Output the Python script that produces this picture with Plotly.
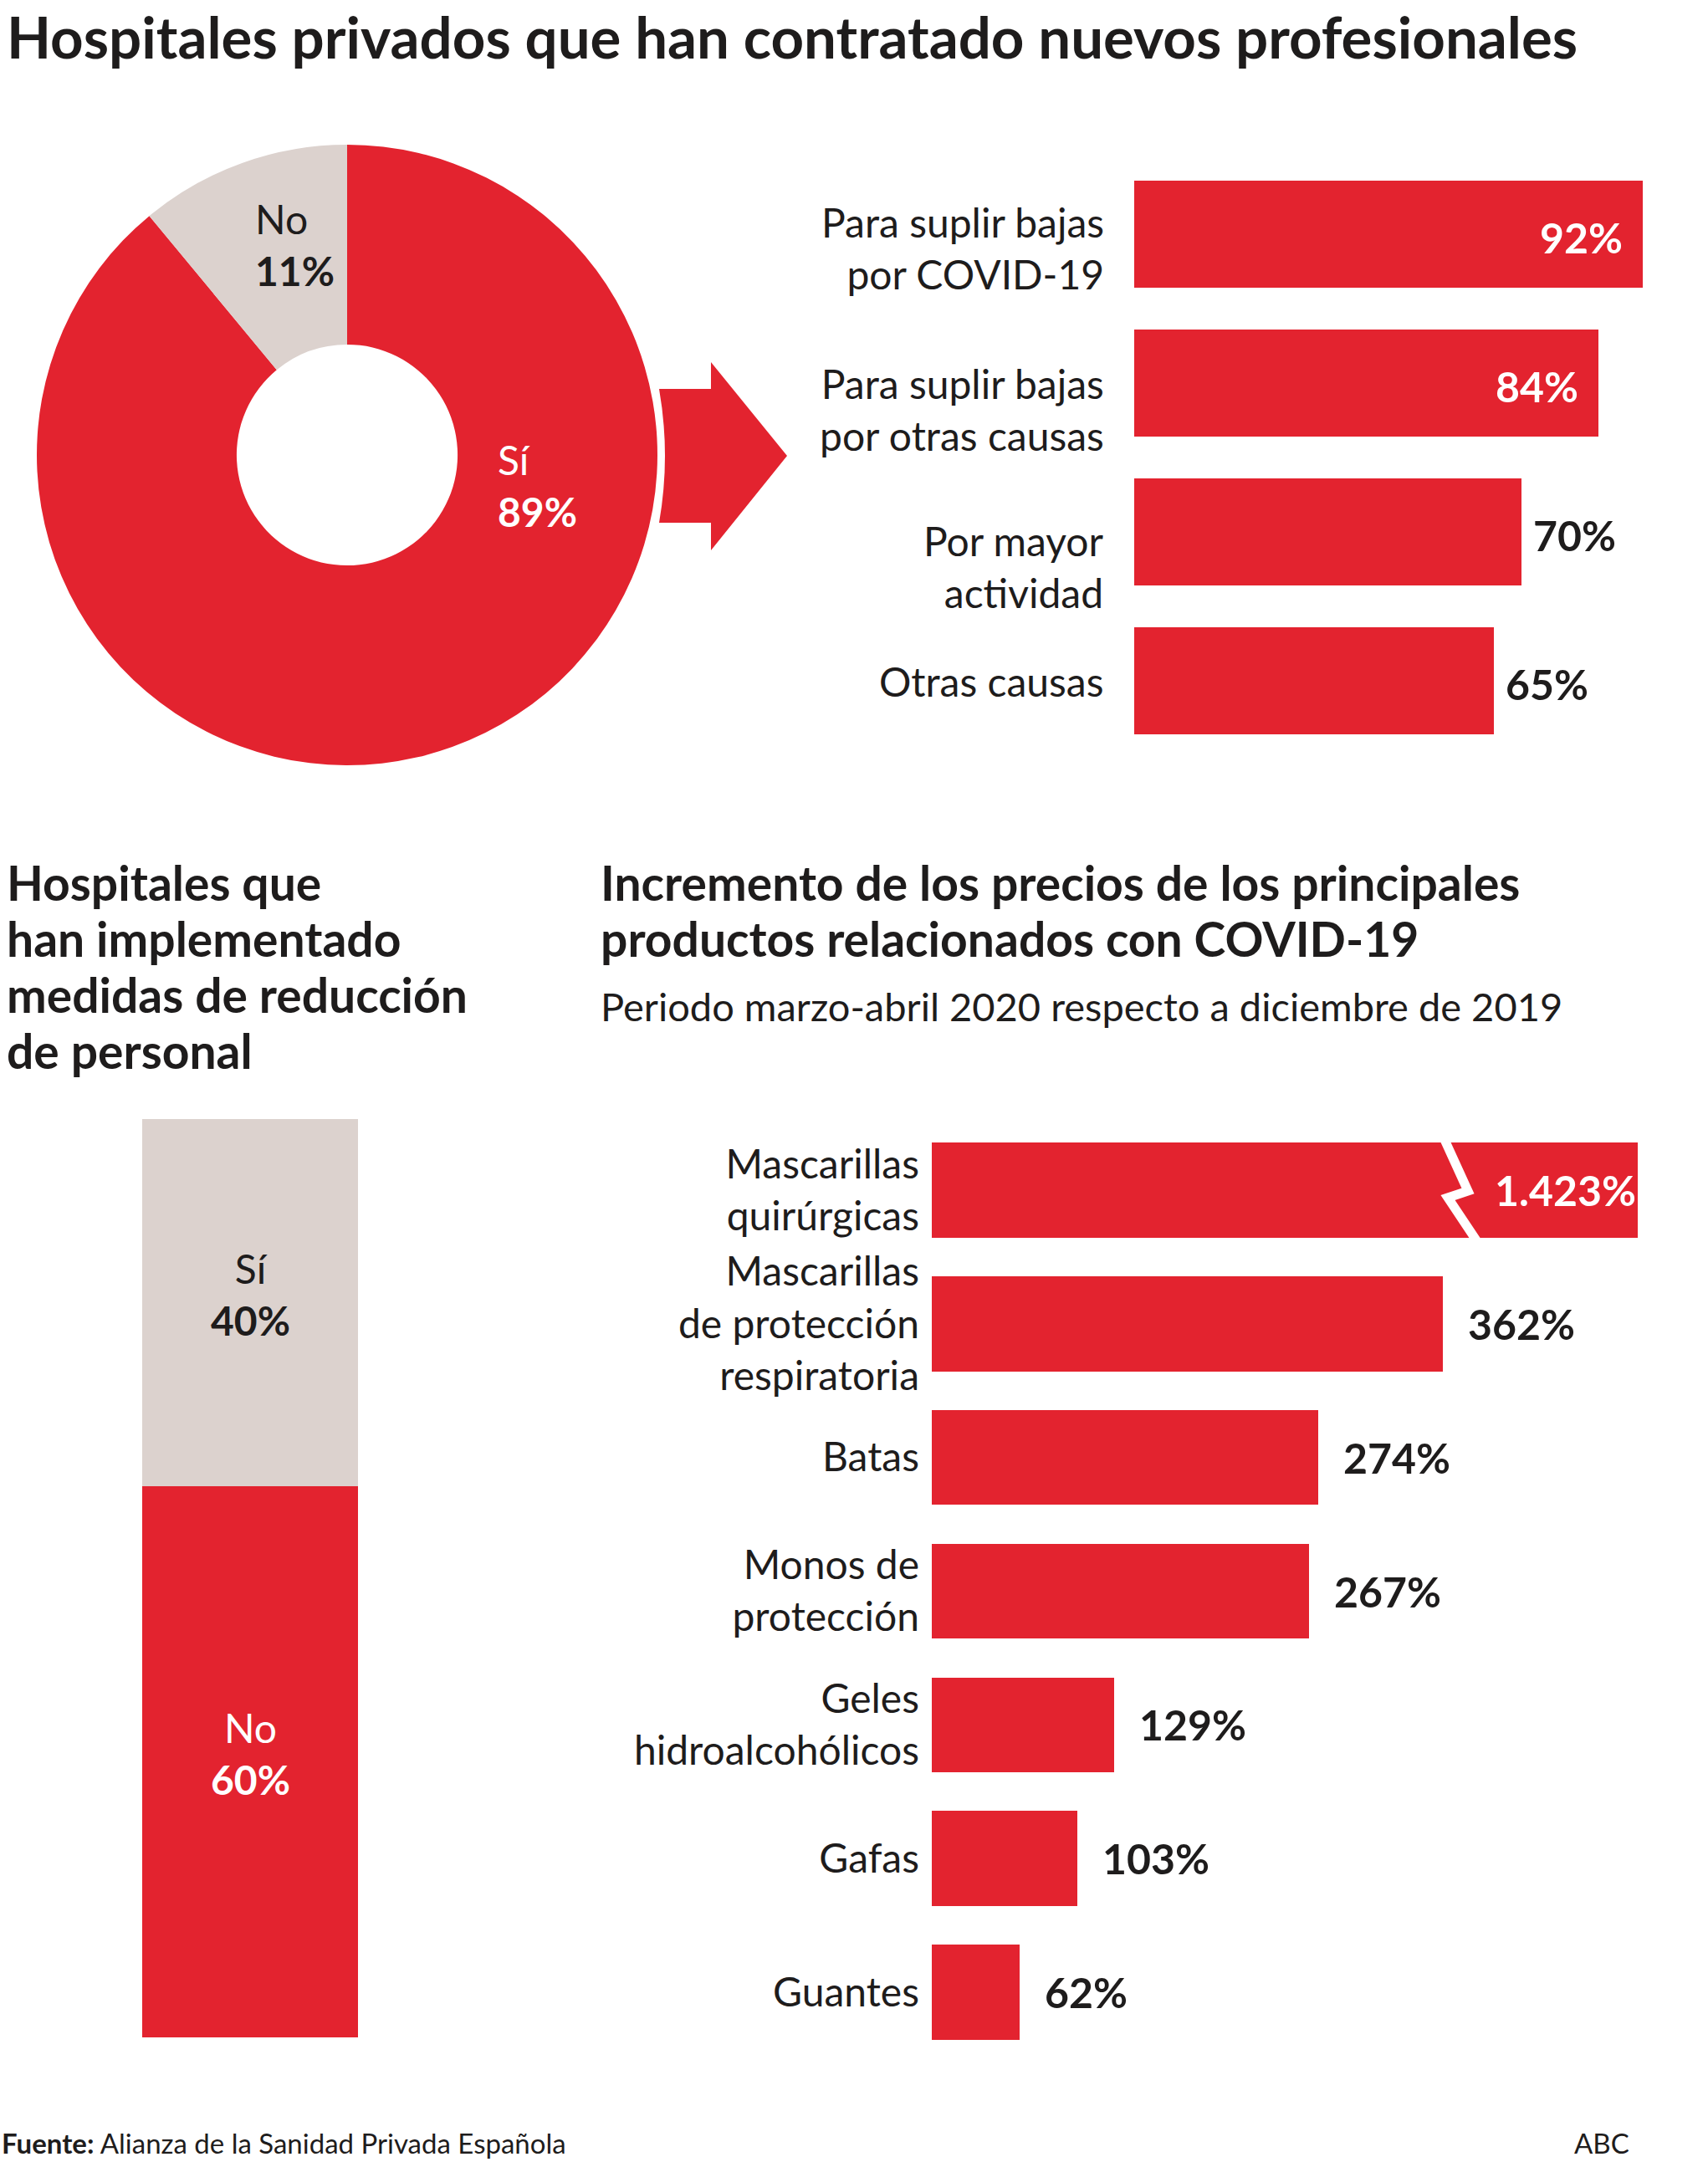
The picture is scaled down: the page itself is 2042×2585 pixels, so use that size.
import plotly.graph_objects as go

W, H = 2042, 2585
RED = "#E3232F"
GREY = "#DCD2CE"
INK = "#1E1C1C"
FONT = "Lato, 'Open Sans', sans-serif"

# ---------------- data ----------------
title_main = "Hospitales privados que han contratado nuevos profesionales"

donut_labels = ["Sí", "No"]
donut_values = [89, 11]

reason_labels = [
    "Para suplir bajas<br>por COVID-19",
    "Para suplir bajas<br>por otras causas",
    "Por mayor<br>actividad",
    "Otras causas",
]
reason_values = [92, 84, 70, 65]

cut_title = ["Hospitales que", "han implementado", "medidas de reducción", "de personal"]
cut_labels = ["Sí", "No"]
cut_values = [40, 60]

price_title = ["Incremento de los precios de los principales",
               "productos relacionados con COVID-19"]
price_subtitle = "Periodo marzo-abril 2020 respecto a diciembre de 2019"
product_labels = [
    "Mascarillas<br>quirúrgicas",
    "Mascarillas<br>de protección<br>respiratoria",
    "Batas",
    "Monos de<br>protección",
    "Geles<br>hidroalcohólicos",
    "Gafas",
    "Guantes",
]
product_values = [1423, 362, 274, 267, 129, 103, 62]

source_text = "Alianza de la Sanidad Privada Española"
brand_text = "ABC"

# display / style parameters
BREAK_AT = 500          # bars longer than this are drawn broken
INSIDE_MIN = 80         # top chart: values >= this are labelled inside the bar
reason_label_drop = [16, 31, 41, 0]   # px the category labels sit below bar centre


def px(x):
    return x / W


def py(y):
    return 1 - y / H


def fmt_es(v):
    return f"{v:,}".replace(",", ".")


fig = go.Figure()

# ---------------- donut ----------------
donut_colors = {"Sí": RED, "No": GREY}
fig.add_trace(go.Pie(
    labels=donut_labels, values=donut_values, hole=0.356, sort=False,
    direction="counterclockwise", rotation=0,
    marker=dict(colors=[donut_colors[l] for l in donut_labels], line=dict(width=0)),
    textinfo="none", hoverinfo="skip", showlegend=False,
    domain=dict(x=[px(44), px(786)], y=[py(915), py(173)]),
))

# ---------------- top bar chart ----------------
fig.add_trace(go.Bar(
    x=reason_values, y=reason_labels, orientation="h",
    marker=dict(color=RED, line=dict(width=0)), width=0.72,
    xaxis="x", yaxis="y", showlegend=False, hoverinfo="skip",
))

# ---------------- stacked bar ----------------
cut_colors = {"Sí": GREY, "No": RED}
cut_text_colors = {"Sí": INK, "No": "white"}
annotations = []
base = 0
for lab, val in reversed(list(zip(cut_labels, cut_values))):
    fig.add_trace(go.Bar(
        x=[0], y=[val], width=1,
        marker=dict(color=cut_colors[lab], line=dict(width=0)),
        xaxis="x2", yaxis="y2", showlegend=False, hoverinfo="skip",
    ))
    annotations.append(dict(
        text=f"{lab}<br><b>{val}%</b>", x=0, y=base + val / 2,
        xref="x2", yref="y2", xanchor="center", yanchor="middle",
        yshift=10, showarrow=False,
        font=dict(family=FONT, size=48, color=cut_text_colors[lab])))
    base += val

# ---------------- price bar chart ----------------
fig.add_trace(go.Bar(
    x=[min(v, BREAK_AT) for v in product_values], y=product_labels,
    orientation="h", width=0.71,
    marker=dict(color=RED, line=dict(width=0)),
    xaxis="x3", yaxis="y3", showlegend=False, hoverinfo="skip",
))

# main title
annotations.append(dict(
    text=f"<b>{title_main}</b>", x=px(6), y=1.0, xref="paper", yref="paper",
    xanchor="left", yanchor="top", showarrow=False,
    font=dict(family=FONT, size=69, color=INK)))

# donut labels
donut_label_pos = {"No": (303, 292, INK), "Sí": (593, 580, "white")}
for lab, val in zip(donut_labels, donut_values):
    xx, yy, col = donut_label_pos[lab]
    annotations.append(dict(
        text=f"{lab}<br><b>{val}%</b>", x=px(xx), y=py(yy),
        xref="paper", yref="paper", xanchor="left", yanchor="middle",
        align="left", showarrow=False,
        font=dict(family=FONT, size=48, color=col)))

# top chart category labels and value labels
for lab, val, drop in zip(reason_labels, reason_values, reason_label_drop):
    annotations.append(dict(
        text=lab, x=0, y=lab, xref="x", yref="y",
        xanchor="right", xshift=-34, yanchor="middle", yshift=-drop,
        align="right", showarrow=False,
        font=dict(family=FONT, size=48, color=INK)))
    inside = val >= INSIDE_MIN
    annotations.append(dict(
        text=f"<b>{val}%</b>", x=val, y=lab, xref="x", yref="y",
        xanchor="right" if inside else "left",
        xshift=-22 if inside else 12, yanchor="middle", yshift=-4,
        showarrow=False,
        font=dict(family=FONT, size=50, color="white" if inside else INK)))

# section titles
for i, line in enumerate(cut_title):
    annotations.append(dict(
        text=f"<b>{line}</b>", x=px(6), y=py(1055 + i * 67),
        xref="paper", yref="paper", xanchor="left", yanchor="middle",
        showarrow=False, font=dict(family=FONT, size=57, color=INK)))
for i, line in enumerate(price_title):
    annotations.append(dict(
        text=f"<b>{line}</b>", x=px(716), y=py(1055 + i * 67),
        xref="paper", yref="paper", xanchor="left", yanchor="middle",
        showarrow=False, font=dict(family=FONT, size=57, color=INK)))
annotations.append(dict(
    text=price_subtitle, x=px(716), y=py(1203),
    xref="paper", yref="paper", xanchor="left", yanchor="middle",
    showarrow=False, font=dict(family=FONT, size=47, color=INK)))

# price value labels
for lab, val in zip(product_labels, product_values):
    broken = val > BREAK_AT
    annotations.append(dict(
        text=f"<b>{fmt_es(val)}%</b>", x=min(val, BREAK_AT), y=lab,
        xref="x3", yref="y3",
        xanchor="right" if broken else "left",
        xshift=0 if broken else 28, yanchor="middle", showarrow=False,
        font=dict(family=FONT, size=50, color="white" if broken else INK)))

# footer
annotations.append(dict(
    text=f"<b>Fuente:</b> {source_text}", x=0, y=py(2562),
    xref="paper", yref="paper", xanchor="left", yanchor="middle",
    showarrow=False, font=dict(family=FONT, size=33, color=INK)))
annotations.append(dict(
    text=brand_text, x=px(1950), y=py(2562),
    xref="paper", yref="paper", xanchor="right", yanchor="middle",
    showarrow=False, font=dict(family=FONT, size=33, color=INK)))


def path(points, close=True, curve=None):
    s = f"M {px(points[0][0])},{py(points[0][1])}"
    for p in points[1:]:
        s += f" L {px(p[0])},{py(p[1])}"
    if curve:
        (cx, cy), (ex, ey) = curve
        s += f" Q {px(cx)},{py(cy)} {px(ex)},{py(ey)}"
    if close:
        s += " Z"
    return s


shapes = [
    # arrow from donut to the bar chart
    dict(type="path", xref="paper", yref="paper",
         path=path([(788, 465), (850, 465), (850, 433), (941, 545),
                    (850, 658), (850, 625), (788, 625)],
                   curve=((802, 545), (788, 465))),
         fillcolor=RED, line=dict(width=0), layer="above"),
    # axis-break zigzag on the broken bar
    dict(type="path", xref="paper", yref="paper",
         path=path([(1724, 1356), (1755, 1424), (1731, 1432), (1771, 1492)],
                   close=False),
         fillcolor="rgba(0,0,0,0)", line=dict(color="white", width=11),
         layer="above"),
]

hidden = dict(showgrid=False, zeroline=False, showticklabels=False,
              showline=False, ticks="", fixedrange=True)

fig.update_layout(
    width=W, height=H, margin=dict(l=0, r=0, t=0, b=0),
    paper_bgcolor="white", plot_bgcolor="white",
    barmode="stack", showlegend=False, hovermode=False,
    font=dict(family=FONT, color=INK),
    xaxis=dict(domain=[px(1356), px(2017)], range=[0, 100], anchor="y", **hidden),
    yaxis=dict(domain=[py(903), py(191)], range=[3.5, -0.5], anchor="x",
               type="category", showgrid=False, zeroline=False, showline=False,
               ticks="", showticklabels=False, fixedrange=True),
    xaxis2=dict(domain=[px(170), px(428)], range=[-0.5, 0.5], anchor="y2", **hidden),
    yaxis2=dict(domain=[py(2436), py(1338)], range=[0, 100], anchor="x2", **hidden),
    xaxis3=dict(domain=[px(1114), 1.0], range=[0, 550], anchor="y3", **hidden),
    yaxis3=dict(domain=[py(2462), py(1343)], range=[6.5, -0.5], anchor="x3",
                type="category", showgrid=False, zeroline=False, showline=False,
                ticks="", ticklabelstandoff=14, fixedrange=True,
                tickfont=dict(family=FONT, size=48, color=INK)),
    annotations=annotations,
    shapes=shapes,
)

fig.write_html(
    "out.html",
    config={"displayModeBar": False},
    post_script="document.body.style.margin='0';document.body.style.padding='0';",
)
